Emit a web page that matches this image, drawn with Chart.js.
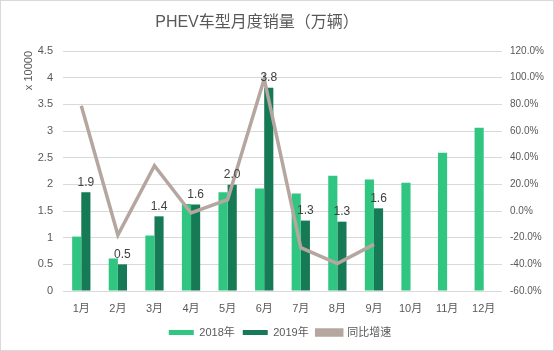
<!DOCTYPE html>
<html>
<head>
<meta charset="utf-8">
<script src="https://cdn.jsdelivr.net/npm/chart.js@4"></script>
<style>
  html, body { margin: 0; padding: 0; background: #fff; }
  #wrap { width: 554px; height: 351px; position: relative; }
</style>
</head>
<body>
<div id="wrap"><canvas id="myChart" width="554" height="351"></canvas></div>
<script>
const months = ["1月", "2月", "3月", "4月", "5月", "6月", "7月", "8月", "9月", "10月", "11月", "12月"];
const sales2018 = [1.02, 0.61, 1.04, 1.63, 1.85, 1.92, 1.83, 2.16, 2.09, 2.03, 2.59, 3.06];
const sales2019 = [1.85, 0.50, 1.40, 1.62, 1.99, 3.81, 1.32, 1.30, 1.55, null, null, null];
const growth = [79, -18, 34, -1.5, 8.5, 99, -27.5, -39.5, -25, null, null, null];
const labels2019 = ["1.9", "0.5", "1.4", "1.6", "2.0", "3.8", "1.3", "1.3", "1.6"];
const chartTitle = "PHEV车型月度销量（万辆）";

const FONT = "'Liberation Sans', 'Noto Sans CJK SC', sans-serif";
const GREY = "#595959";

// title, value labels above the 2019 bars, outer frame
const extras = {
    id: "extras",
    afterDatasetsDraw(chart) {
        const ctx = chart.ctx;
        const meta = chart.getDatasetMeta(1);
        ctx.save();
        ctx.font = "12px " + FONT;
        ctx.fillStyle = "#404040";
        ctx.textAlign = "center";
        ctx.textBaseline = "bottom";
        labels2019.forEach((txt, i) => {
            const bar = meta.data[i];
            if (!bar) return;
            ctx.fillText(txt, bar.x, bar.y - 4);
        });
        ctx.restore();
    },
    afterDraw(chart) {
        const ctx = chart.ctx;
        ctx.save();
        ctx.font = "16px " + FONT;
        ctx.fillStyle = GREY;
        ctx.textAlign = "center";
        ctx.textBaseline = "middle";
        ctx.fillText(chartTitle, 257, 23);
        ctx.strokeStyle = "#d9d9d9";
        ctx.lineWidth = 1;
        ctx.strokeRect(0.5, 0.5, chart.width - 1, chart.height - 1);
        ctx.restore();
    }
};

const ctx = document.getElementById("myChart").getContext("2d");
new Chart(ctx, {
    data: {
        labels: months,
        datasets: [
            {
                type: "bar",
                label: "2018年",
                data: sales2018,
                backgroundColor: "#30c681",
                yAxisID: "y",
                categoryPercentage: 0.5,
                barPercentage: 1.0,
                order: 2
            },
            {
                type: "bar",
                label: "2019年",
                data: sales2019,
                backgroundColor: "#177a56",
                yAxisID: "y",
                categoryPercentage: 0.5,
                barPercentage: 1.0,
                order: 2
            },
            {
                type: "line",
                label: "同比增速",
                data: growth,
                borderColor: "#b5a6a0",
                backgroundColor: "#b5a6a0",
                borderWidth: 3.5,
                pointRadius: 0,
                tension: 0,
                spanGaps: false,
                yAxisID: "y1",
                order: 1
            }
        ]
    },
    options: {
        responsive: false,
        animation: false,
        layout: { padding: { top: 51, left: 14, right: 8, bottom: 3 } },
        plugins: {
            title: { display: false },
            legend: {
                position: "bottom",
                labels: {
                    color: GREY,
                    font: { family: FONT, size: 11 },
                    boxWidth: 25,
                    boxHeight: 5,
                    padding: 8,
                    sort: (a, b) => a.datasetIndex - b.datasetIndex
                }
            },
            tooltip: { enabled: false }
        },
        scales: {
            x: {
                grid: { display: false },
                border: { display: false },
                ticks: { color: GREY, font: { family: FONT, size: 11 }, maxRotation: 0, padding: 3 },
                afterFit: s => { s.height = 28; }
            },
            y: {
                position: "left",
                min: 0,
                max: 4.5,
                ticks: {
                    stepSize: 0.5,
                    color: GREY,
                    font: { family: FONT, size: 11 },
                    padding: 10,
                    callback: v => String(v)
                },
                grid: { color: "#d9d9d9", lineWidth: 1, drawTicks: false },
                border: { display: false },
                title: {
                    display: true,
                    text: "x 10000",
                    align: "end",
                    color: GREY,
                    font: { family: FONT, size: 11 },
                    padding: { top: 8, bottom: 0 }
                },
                afterFit: s => { s.width = 49; }
            },
            y1: {
                position: "right",
                min: -60,
                max: 120,
                ticks: {
                    stepSize: 20,
                    color: GREY,
                    font: { family: FONT, size: 10 },
                    padding: 8,
                    callback: v => v.toFixed(1) + "%"
                },
                grid: { display: false, drawTicks: false },
                border: { display: false },
                afterFit: s => { s.width = 44; }
            }
        }
    },
    plugins: [extras]
});
</script>
</body>
</html>
